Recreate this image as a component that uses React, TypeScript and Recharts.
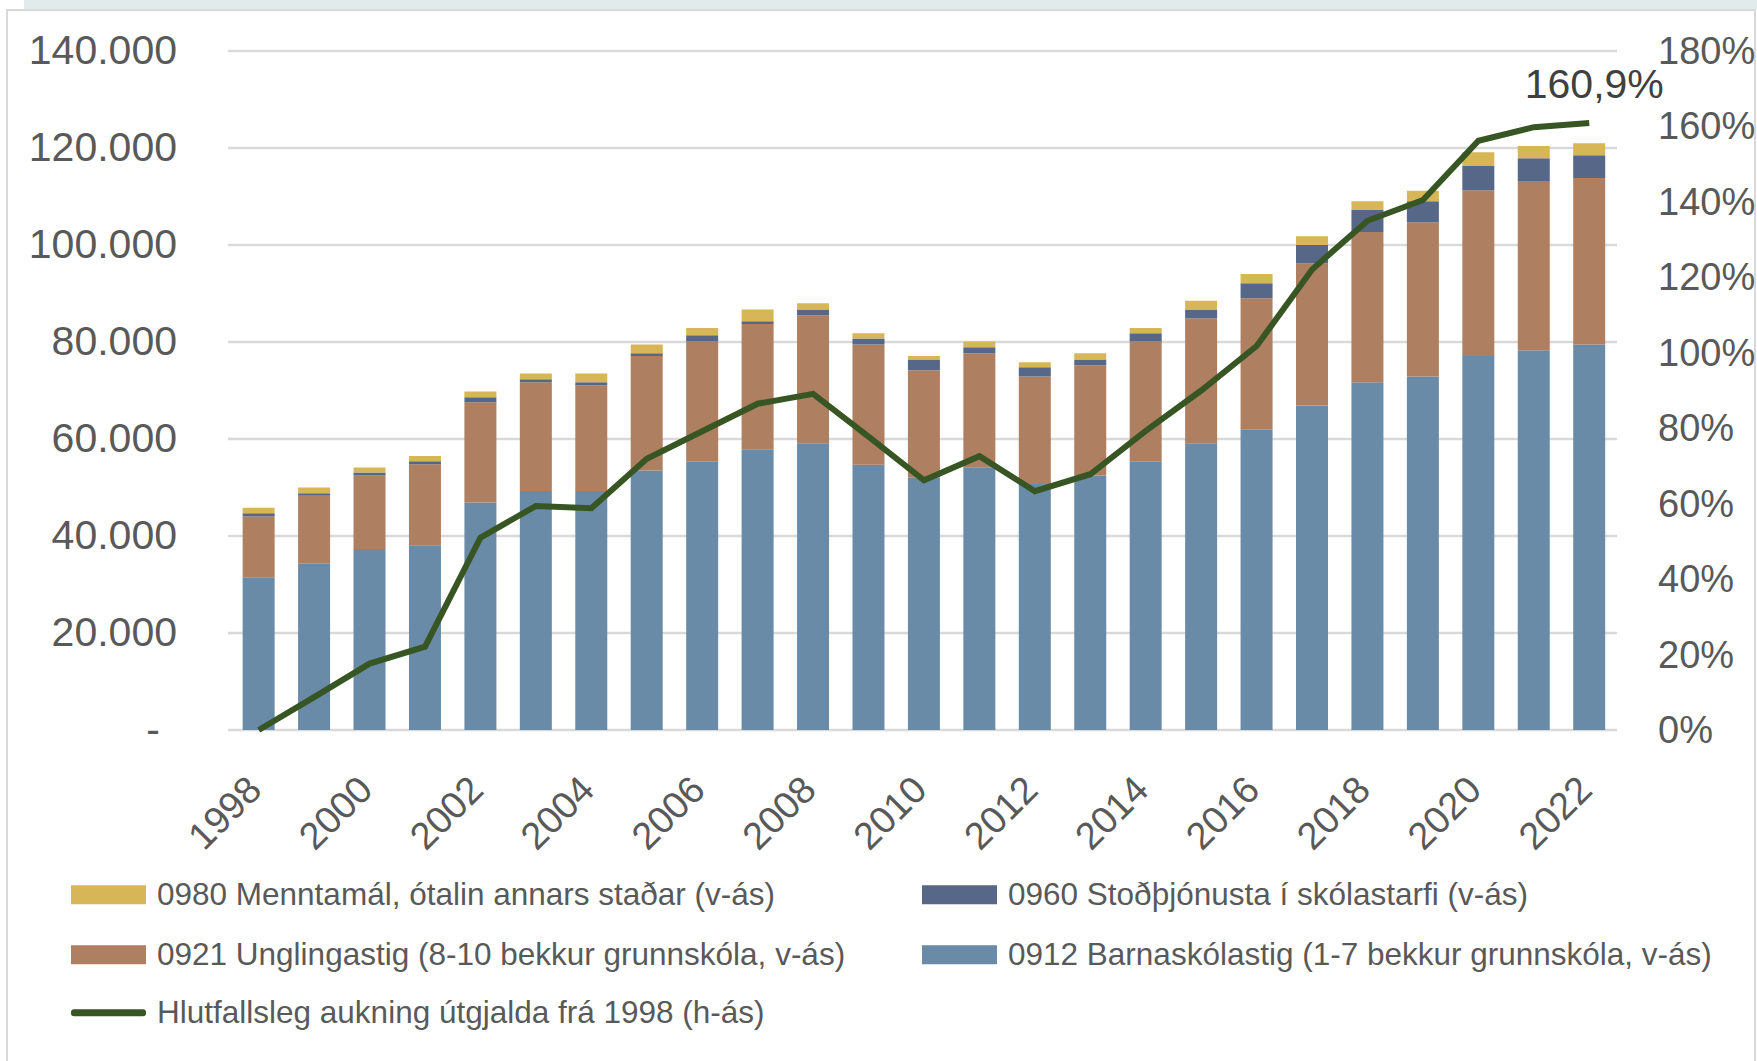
import {
  Bar,
  CartesianGrid,
  ComposedChart,
  LabelList,
  Line,
  XAxis,
  YAxis,
} from "recharts";

// 연도별 교육비 지출 (백만 ISK) – 그림에서 읽은 값
const years = [
  "1998", "1999", "2000", "2001", "2002", "2003", "2004", "2005", "2006",
  "2007", "2008", "2009", "2010", "2011", "2012", "2013", "2014", "2015",
  "2016", "2017", "2018", "2019", "2020", "2021", "2022",
];

// 0912 Barnaskólastig
const barnaskoli = [
  31500, 34300, 37300, 38100, 46900, 49300, 49300, 53500, 55300, 57900, 59100,
  54700, 52000, 54200, 50700, 52500, 55300, 59100, 61900, 66900, 71700, 72900,
  77100, 78300, 79500,
];

// 0921 Unglingastig
const unglingastig = [
  12500, 14000, 15200, 16700, 20700, 22400, 21800, 23600, 24800, 25800, 26400,
  24800, 22200, 23500, 22200, 22700, 24800, 25800, 27100, 29300, 31000, 31800,
  34200, 34900, 34300,
];

// 0960 Stoðþjónusta
const stodthjonusta = [
  700, 500, 600, 600, 1000, 600, 600, 600, 1300, 600, 1200, 1200, 2200, 1200,
  1900, 1200, 1700, 1800, 3100, 3800, 4500, 4300, 5000, 4700, 4700,
];

// 0980 Menntamál, ótalin annars staðar
const menntamal = [
  1100, 1200, 1000, 1100, 1200, 1200, 1800, 1800, 1500, 2400, 1300, 1100, 700,
  1200, 1000, 1300, 1100, 1800, 1900, 1800, 1800, 2200, 2800, 2500, 2500,
];

// Hlutfallsleg aukning útgjalda frá 1998 (%)
const aukning = [
  0, 8.7, 17.6, 22.1, 51.0, 59.4, 58.8, 71.9, 79.2, 86.5, 89.1, 77.8, 66.2,
  72.6, 63.3, 67.8, 79.3, 90.0, 101.8, 122.1, 135.0, 140.5, 156.2, 159.8,
  160.9,
];

const leftTicks = [0, 20000, 40000, 60000, 80000, 100000, 120000, 140000];
const rightTicks = [0, 20, 40, 60, 80, 100, 120, 140, 160, 180];

const data = years.map((year, i) => ({
  year,
  barna: barnaskoli[i],
  ungl: unglingastig[i],
  stod: stodthjonusta[i],
  mennt: menntamal[i],
  pct: aukning[i],
}));

const COLORS = {
  barna: "#6A8BA8",
  ungl: "#AE7F61",
  stod: "#566787",
  mennt: "#D6B656",
  line: "#375623",
  text: "#595959",
  grid: "#D9D9D9",
};

const FONT = "'Liberation Sans', Arial, sans-serif";

const fmtThousands = (v: number) =>
  v === 0 ? "-" : v.toLocaleString("de-DE");

const LeftTick = ({ x, y, payload }: any) => {
  const isZero = payload.value === 0;
  return (
    <text
      x={x - (isZero ? 68 : 51)}
      y={y + 13}
      textAnchor="end"
      fill={COLORS.text}
      fontSize={41}
      fontFamily={FONT}
    >
      {fmtThousands(payload.value)}
    </text>
  );
};

const RightTick = ({ x, y, payload }: any) => (
  <text
    x={x + 41}
    y={y + 13}
    textAnchor="start"
    fill={COLORS.text}
    fontSize={38}
    fontFamily={FONT}
  >
    {payload.value}%
  </text>
);

const YearTick = ({ x, y, payload }: any) => {
  const tx = x + 5;
  const ty = y + 62;
  return (
    <text
      x={tx}
      y={ty}
      transform={`rotate(-45 ${tx} ${ty})`}
      textAnchor="end"
      fill={COLORS.text}
      fontSize={38}
      fontFamily={FONT}
    >
      {payload.value}
    </text>
  );
};

// 마지막 점에만 값 표시
const LastLabel = (props: any) => {
  const { x, y, index, value } = props;
  if (index !== years.length - 1) return null;
  return (
    <text
      x={x + 5}
      y={y - 25}
      textAnchor="middle"
      fill="#404040"
      fontSize={41}
      fontFamily={FONT}
    >
      {String(value).replace(".", ",")}%
    </text>
  );
};

const legendItems = [
  { label: "0980 Menntamál, ótalin annars staðar (v-ás)", color: COLORS.mennt, left: 71, top: 895, type: "box" },
  { label: "0960 Stoðþjónusta í skólastarfi (v-ás)", color: COLORS.stod, left: 922, top: 895, type: "box" },
  { label: "0921 Unglingastig (8-10 bekkur grunnskóla, v-ás)", color: COLORS.ungl, left: 71, top: 955, type: "box" },
  { label: "0912 Barnaskólastig (1-7 bekkur grunnskóla, v-ás)", color: COLORS.barna, left: 922, top: 955, type: "box" },
  { label: "Hlutfallsleg aukning útgjalda frá 1998 (h-ás)", color: COLORS.line, left: 71, top: 1013, type: "line" },
];

export default function App() {
  return (
    <div
      style={{
        position: "absolute",
        left: 0,
        top: 0,
        width: 1757,
        height: 1061,
        background: "#fff",
        overflow: "hidden",
        fontFamily: FONT,
      }}
    >
      {/* 상단 띠 & 테두리 */}
      <div
        style={{
          position: "absolute",
          left: 24,
          top: 0,
          width: 1733,
          height: 9,
          background: "#E2EBEC",
        }}
      />
      <div
        style={{
          position: "absolute",
          left: 6,
          top: 9,
          width: 1746,
          height: 1100,
          border: "2px solid #D9D9D9",
          background: "#fff",
        }}
      />

      <div style={{ position: "absolute", left: 0, top: 0 }}>
        <ComposedChart
          width={1757}
          height={1061}
          data={data}
          margin={{ top: 51, right: 0, bottom: 231, left: 0 }}
          barCategoryGap="21%"
        >
          <CartesianGrid
            yAxisId="left"
            vertical={false}
            stroke={COLORS.grid}
            strokeWidth={2.5}
          />
          <XAxis
            dataKey="year"
            interval={1}
            axisLine={false}
            tickLine={false}
            tickSize={0}
            tickMargin={0}
            height={100}
            padding={{ left: 3, right: 0 }}
            tick={<YearTick />}
          />
          <YAxis
            yAxisId="left"
            domain={[0, 140000]}
            ticks={leftTicks}
            axisLine={false}
            tickLine={false}
            tickSize={0}
            tickMargin={0}
            width={228}
            tick={<LeftTick />}
          />
          <YAxis
            yAxisId="right"
            orientation="right"
            domain={[0, 180]}
            ticks={rightTicks}
            axisLine={false}
            tickLine={false}
            tickSize={0}
            tickMargin={0}
            width={140}
            tick={<RightTick />}
          />
          <Bar yAxisId="left" dataKey="barna" stackId="a" fill={COLORS.barna} isAnimationActive={false} />
          <Bar yAxisId="left" dataKey="ungl" stackId="a" fill={COLORS.ungl} isAnimationActive={false} />
          <Bar yAxisId="left" dataKey="stod" stackId="a" fill={COLORS.stod} isAnimationActive={false} />
          <Bar yAxisId="left" dataKey="mennt" stackId="a" fill={COLORS.mennt} isAnimationActive={false} />
          <Line
            yAxisId="right"
            type="linear"
            dataKey="pct"
            stroke={COLORS.line}
            strokeWidth={6}
            dot={false}
            isAnimationActive={false}
          >
            <LabelList dataKey="pct" content={<LastLabel />} />
          </Line>
        </ComposedChart>
      </div>

      {/* 범례 */}
      {legendItems.map((item) => (
        <div
          key={item.label}
          style={{
            position: "absolute",
            left: item.left,
            top: item.top,
            transform: "translateY(-50%)",
            display: "flex",
            alignItems: "center",
            whiteSpace: "nowrap",
          }}
        >
          <div
            style={{
              width: 75,
              height: item.type === "line" ? 7 : 19,
              background: item.color,
              borderRadius: item.type === "line" ? 3 : 0,
              marginRight: 11,
            }}
          />
          <span style={{ fontSize: 31.5, color: COLORS.text, lineHeight: 1 }}>
            {item.label}
          </span>
        </div>
      ))}
    </div>
  );
}
